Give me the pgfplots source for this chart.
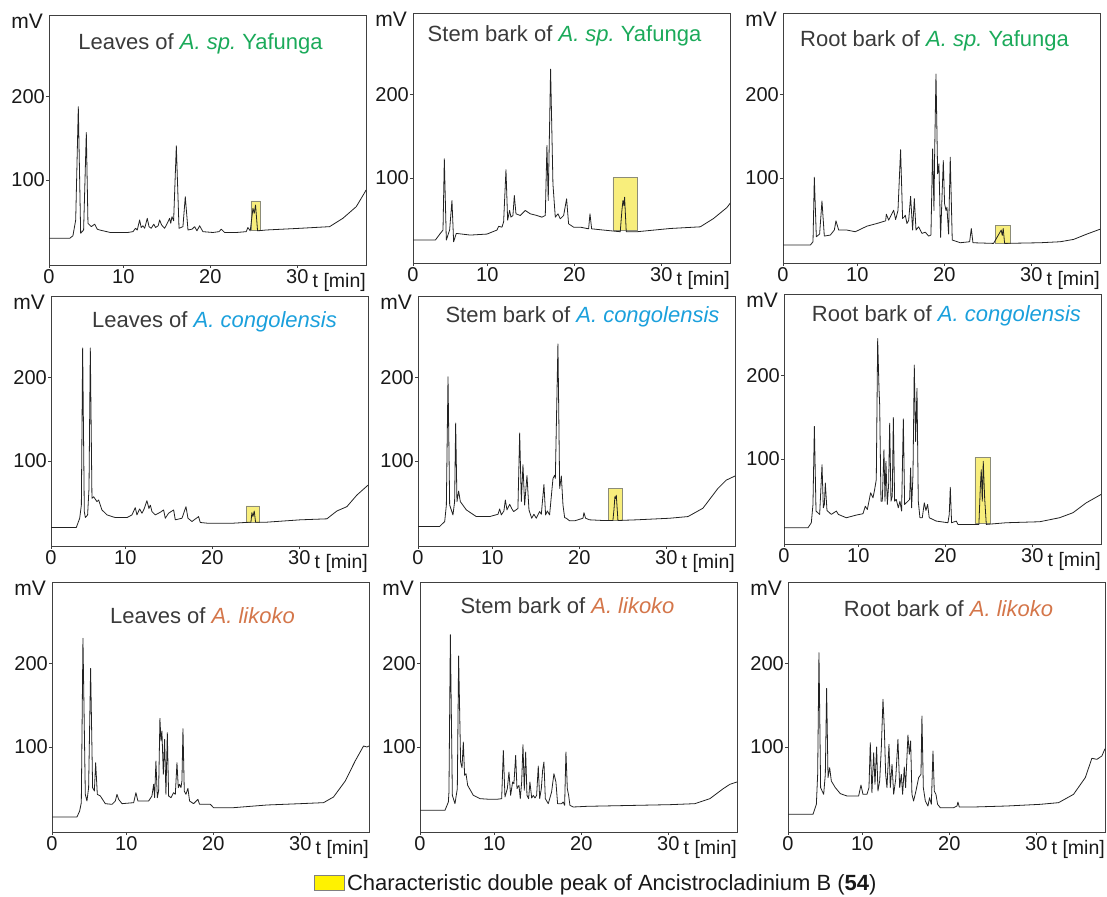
\documentclass[border=0pt]{standalone}
\usepackage{fontspec}
\setmainfont{Liberation Sans}
\usepackage{pgfplots}
\pgfplotsset{compat=1.18}

\definecolor{ink}{HTML}{3A3A3A}
\definecolor{spg}{HTML}{1BAA5A}
\definecolor{cgb}{HTML}{1BA0DC}
\definecolor{lko}{HTML}{D4764A}
\definecolor{hl}{HTML}{F8EE7C}
\definecolor{hldraw}{HTML}{8C8C78}
\definecolor{trace}{HTML}{222222}

\pgfplotsset{
  chrom/.style={
    scale only axis, width=317pt, height=250pt,
    xmin=1.45, xmax=37.9, ymin=-2, ymax=298,
    xtick={1.45,10,20,30}, xticklabels={0,10,20,30},
    ytick={100,200},
    tick pos=left, tick align=outside, major tick length=3pt,
    axis line style={line width=0.9pt, black!75},
    every tick/.style={line width=0.9pt, black!75},
    tick label style={font=\fontsize{20}{20}\selectfont, text=black!90},
    xticklabel style={inner sep=1pt},
    yticklabel style={inner sep=1pt},
    /pgf/number format/assume math mode=true,
    xlabel={t [min]}, ylabel={mV},
    every axis x label/.style={at={(rel axis cs:1,0)}, anchor=base east,
      yshift=-23pt, xshift=0pt, inner sep=0pt,
      font=\fontsize{19.5}{19.5}\selectfont, text=black!90},
    every axis y label/.style={at={(rel axis cs:0,1)}, anchor=north east,
      xshift=-6pt, yshift=1pt, inner sep=0pt,
      font=\fontsize{21}{21}\selectfont, text=black!90},
    every axis title/.style={at={(rel axis cs:0.5,1)}, anchor=center,
      inner sep=0pt, font=\fontsize{22}{22}\selectfont, text=ink},
  },
  trace/.style={draw=trace, line width=0.8pt, mark=none, forget plot, line join=round},
  peakbox/.style={fill=hl, draw=hldraw, line width=0.6pt, mark=none, forget plot},
}

\begin{document}
\begin{tikzpicture}
\useasboundingbox (0,0) rectangle (1107pt,896pt);

% ---------------- row 1: A. sp. Yafunga ----------------
\begin{axis}[chrom, at={(49pt,631pt)}, anchor=south west,
  title={Leaves of \textcolor{spg}{\itshape A.\ sp.}\ \textcolor{spg}{Yafunga}},
  title style={xshift=-7pt, yshift=-29pt}]
\addplot[peakbox] coordinates {(24.67,40)(25.70,40)(25.70,75)(24.67,75)(24.67,40)};
\addplot[trace] coordinates {
(1.45,30)(3.83,30)(4.2,33)(4.52,52)(4.82,188)(5.09,36)(5.43,40)(5.74,157)(5.93,48)
(6.32,44)(6.7,47)(7.0,41)(7.27,40)(8.5,37)(9.19,37)(10.5,37)(11.1,38)(11.4,42)(11.6,40)
(11.87,52)(12.05,43)(12.25,45)(12.45,42)(12.75,54)(12.95,44)(13.2,42)(13.5,47)(13.7,43)
(14.0,45)(14.17,52)(14.4,46)(14.74,42)(15.0,47)(15.32,54)(15.45,48)(15.59,56)(15.78,51)
(16.09,141)(16.4,42)(16.85,44)(17.12,80)(17.43,40)(17.9,41)(18.2,44)(18.46,39)(18.77,45)
(19.15,38)(20.3,37)(21.0,38)(21.26,41)(21.64,37)(23.0,37)(24.13,38)(24.32,43)(24.59,39)
(24.9,66)(25.05,60)(25.2,70)(25.43,39)(26.43,40)(30.26,42)(33.71,44)(35.24,54)(36.78,68)
(37.81,86)(37.9,88)};
\end{axis}

\begin{axis}[chrom, at={(413pt,633pt)}, anchor=south west,
  title={Stem bark of \textcolor{spg}{\itshape A.\ sp.}\ \textcolor{spg}{Yafunga}},
  title style={xshift=-7pt, yshift=-23pt}]
\addplot[peakbox] coordinates {(24.44,37.5)(27.2,37.5)(27.2,100.4)(24.44,100.4)(24.44,37.5)};
\addplot[trace] coordinates {
(1.45,25.5)(4.02,25.5)(4.59,33.5)(4.9,37.5)(5.05,123)(5.28,25.5)(5.66,37.5)(5.93,73)
(6.12,23.5)(6.43,33.5)(8.04,31.5)(9.96,32.7)(11.1,37.5)(11.3,42)(11.68,41)(11.87,47.4)
(12.14,110)(12.33,49.4)(12.56,61)(12.71,53)(12.94,55)(13.1,79)(13.29,57)(13.79,55)
(14.36,61)(14.94,57)(15.7,55)(16.28,53)(16.66,55)(16.85,139)(17.0,73)(17.27,230.7)
(17.54,93)(17.81,53)(18.12,57)(18.38,51)(18.77,55)(19.11,75)(19.34,45)(19.92,41)
(20.68,41)(21.64,39)(21.8,57)(21.99,39)(23.37,37.5)(25.28,35.5)(25.47,61)(25.59,73)
(25.7,67)(25.78,77)(25.97,35.5)(27.2,35.5)(31.03,39.4)(34.48,41.4)(36.01,51.4)
(37.54,64.5)(38.12,72.5)};
\end{axis}

\begin{axis}[chrom, at={(783pt,633pt)}, anchor=south west,
  title={Root bark of \textcolor{spg}{\itshape A.\ sp.}\ \textcolor{spg}{Yafunga}},
  title style={xshift=-7pt, yshift=-28pt}]
\addplot[peakbox] coordinates {(25.86,21.5)(27.58,21.5)(27.58,43.4)(25.86,43.4)(25.86,21.5)};
\addplot[trace] coordinates {
(1.45,19.5)(4.59,19.5)(4.9,23.5)(5.05,101)(5.28,29.5)(5.66,32.7)(5.93,72.5)(6.2,30.3)
(6.89,31.5)(7.35,37.5)(7.54,48.6)(7.85,37.5)(8.8,37.5)(9.76,35.5)(11.1,42.2)(12.25,45.4)
(13.25,48.6)(13.33,56.6)(13.6,49.4)(14.17,61.4)(14.4,50.2)(14.67,61)(14.97,134)(15.2,51.4)
(15.4,53.4)(15.51,55.4)(15.7,45.4)(15.9,49)(16.12,78)(16.24,57.4)(16.35,37.5)(16.55,75.3)
(16.74,37.5)(17.04,41.4)(17.43,33.5)(17.81,35)(18.19,30.3)(18.46,31.5)(18.65,135)
(18.81,61)(18.88,125)(19.04,224.7)(19.23,105)(19.38,117)(19.57,28.7)(19.88,121)
(20.03,69)(20.19,61)(20.3,65)(20.49,32.7)(20.68,125)(20.91,25.5)(21.83,22.3)(22.91,23.5)
(23.1,39.4)(23.29,22.3)(25.66,21.5)(26.54,37.5)(26.66,31)(26.77,39.4)(26.93,21.5)
(31.03,22.3)(33.33,23.5)(34.86,26.3)(36.39,32.7)(37.9,38.5)};
\end{axis}

% ---------------- row 2: A. congolensis ----------------
\begin{axis}[chrom, at={(51pt,350pt)}, anchor=south west,
  title={Leaves of \textcolor{cgb}{\itshape A.\ congolensis}},
  title style={xshift=5pt, yshift=-26pt}]
\addplot[peakbox] coordinates {(23.9,26.2)(25.43,26.2)(25.43,46)(23.9,46)(23.9,26.2)};
\addplot[trace] coordinates {
(1.45,20.2)(4.36,20.2)(4.75,31.3)(4.94,47.2)(5.09,235.7)(5.28,39.3)(5.4,32.1)(5.66,35.3)
(5.82,67)(5.97,235.7)(6.16,55.2)(6.35,57.1)(6.74,51.2)(6.93,53.2)(7.31,41.3)(7.89,35.3)
(8.84,32.1)(10.19,32.1)(10.76,35.3)(11.14,44)(11.33,35.3)(11.64,42.5)(11.91,37.3)
(12.18,43)(12.48,52.4)(12.71,43)(12.87,47)(13.06,39.3)(13.44,35.3)(14.02,38.5)(14.4,41.3)
(14.59,31.3)(14.97,37.3)(15.55,41.3)(15.74,29.4)(16.51,31.3)(16.97,45.2)(17.2,31.3)
(17.66,27.4)(18.42,33.3)(18.61,26.2)(19.38,25.4)(22.45,25.4)(24.44,26.6)(24.55,38)
(24.67,33.3)(24.82,40)(24.97,26.6)(26.28,26.6)(30.11,29.4)(33.17,30.6)(34.32,40)
(35.47,45.2)(36.62,59.1)(37.9,71)};
\end{axis}

\begin{axis}[chrom, at={(418pt,350pt)}, anchor=south west,
  title={Stem bark of \textcolor{cgb}{\itshape A.\ congolensis}},
  title style={xshift=6pt, yshift=-21pt}]
\addplot[peakbox] coordinates {(23.33,28.6)(24.94,28.6)(24.94,67)(23.33,67)(23.33,28.6)};
\addplot[trace] coordinates {
(1.45,21.4)(3.94,21.4)(4.52,27.4)(4.71,47.2)(4.9,201)(5.09,47.2)(5.47,35.3)(5.66,51.2)
(5.78,145.6)(5.93,51.2)(6.12,63.9)(6.32,51.2)(7.01,41.3)(8.15,33.3)(9.69,33.3)(10.65,36.1)
(10.84,42.5)(11.03,35.3)(11.33,40)(11.49,53.2)(11.68,41.3)(11.99,48)(12.22,43)(12.45,39.3)
(12.94,43)(13.14,133.7)(13.33,51.2)(13.52,95.6)(13.71,47.2)(13.98,82.5)(14.21,41.3)
(14.52,31.3)(14.78,36.1)(15.05,31.3)(15.43,39.3)(15.63,36.1)(15.93,71.8)(16.12,35.3)
(16.32,40)(16.58,35.3)(16.97,79)(17.16,83)(17.24,79)(17.54,240.5)(17.74,67)(17.93,82)
(18.12,47.2)(18.31,32.1)(18.5,31.3)(18.88,28.2)(19.46,28.2)(20.42,31.3)(20.53,38)
(20.72,31.3)(21.18,29.4)(22.71,28.6)(23.86,28.6)(23.98,41.3)(24.09,57.1)(24.17,55)
(24.25,59)(24.44,28.6)(26.55,29.4)(30.38,31.3)(32.49,33.3)(34.21,43.3)(35.93,67)
(36.89,77)(37.9,82)};
\end{axis}

\begin{axis}[chrom, at={(784pt,352pt)}, anchor=south west,
  title={Root bark of \textcolor{cgb}{\itshape A.\ congolensis}},
  title style={xshift=4pt, yshift=-22pt}]
\addplot[peakbox] coordinates {(23.4,22.3)(25.17,22.3)(25.17,102)(23.4,102)(23.4,22.3)};
\addplot[trace] coordinates {
(1.45,17.5)(4.21,17.5)(4.59,23.5)(4.78,45.4)(4.94,139)(5.13,37.5)(5.55,33.5)(5.82,93.2)
(5.97,41.4)(6.09,45.4)(6.2,71.3)(6.39,38.2)(6.89,33.5)(7.47,37.5)(7.7,33.5)(8.61,29.5)
(9.76,32.7)(10.53,34.3)(10.8,43.4)(11.03,39.4)(11.41,59.4)(11.68,53.4)(11.87,63.3)
(12.06,75.3)(12.22,244.6)(12.37,184.9)(12.45,165)(12.6,49.4)(12.75,49.4)(12.94,111)
(13.06,49.4)(13.17,97.2)(13.33,45.4)(13.48,69.3)(13.6,143)(13.75,49.4)(13.9,55.4)
(14.02,149.8)(14.17,49.4)(14.36,51.4)(14.59,41.4)(14.78,49.4)(14.97,37.5)(15.17,148.2)
(15.32,45.4)(15.7,49.4)(15.89,51.4)(16.01,89.2)(16.12,41.4)(16.28,81.3)(16.43,212.7)
(16.58,121)(16.74,184.9)(16.89,49.4)(17.08,29.5)(17.35,29.5)(17.58,47.4)(17.77,38.2)
(17.96,45.4)(18.15,29.5)(18.96,25.5)(20.3,23.5)(20.45,33.5)(20.57,66.1)(20.72,23.5)
(21.26,25.5)(21.45,21.5)(23.17,21.5)(23.86,21.5)(24.02,65.3)(24.13,87.2)(24.25,49.4)
(24.36,97.2)(24.52,53.4)(24.71,21.5)(27.0,23.5)(30.84,24.7)(33.13,29.5)(34.67,35.5)
(36.2,47.4)(37.9,57.4)};
\end{axis}

% ---------------- row 3: A. likoko ----------------
\begin{axis}[chrom, at={(52pt,64pt)}, anchor=south west,
  title={Leaves of \textcolor{lko}{\itshape A.\ likoko}},
  title style={xshift=-8pt, yshift=-34pt}]
\addplot[trace] coordinates {
(1.45,16)(4.32,16)(4.63,23.2)(4.82,33.2)(5.01,230.4)(5.28,43.2)(5.47,35.2)(5.66,51.2)
(5.89,194.4)(6.12,51.2)(6.32,47.2)(6.47,81.2)(6.66,43.2)(7.01,41.2)(7.58,32)(8.35,31.2)
(8.73,35.2)(8.92,43.2)(9.11,37.2)(9.5,32)(10.84,33.2)(11.1,45.2)(11.33,35.2)(12.56,35.2)
(12.94,41.2)(13.14,55.2)(13.25,39.2)(13.4,83.2)(13.56,39.2)(13.71,47.2)(13.86,134.4)
(13.98,107.2)(14.09,119.2)(14.25,67.2)(14.4,109.2)(14.55,43.2)(14.71,117.2)(14.86,41.2)
(15.13,39.2)(15.43,45.2)(15.63,43.2)(15.82,81.2)(15.97,51.2)(16.12,55.2)(16.28,51.2)
(16.39,59.2)(16.51,122)(16.66,47.2)(16.85,43.2)(17.08,50.4)(17.27,35.2)(17.73,32)
(18.23,37.2)(18.42,31.2)(19.65,31.2)(20.03,27.2)(22.33,27.2)(26.16,30.4)(29.99,32)
(32.67,33.2)(33.82,40)(35.17,59.2)(36.31,83.2)(37.27,101.2)(37.66,100)(37.9,101.2)};
\end{axis}

\begin{axis}[chrom, at={(420pt,64pt)}, anchor=south west,
  title={Stem bark of \textcolor{lko}{\itshape A.\ likoko}},
  title style={xshift=-11pt, yshift=-24pt},
  legend style={at={(0.5,0)}, anchor=north, xshift=18pt, yshift=-40pt,
    draw=none, fill=none, inner sep=0pt,
    font=\fontsize{22}{22}\selectfont, text=black!90},
  legend cell align=left]
\addplot[trace] coordinates {
(1.45,24)(4.32,24)(4.71,34)(4.78,46)(4.94,234.8)(5.17,42)(5.47,32)(5.74,50)(5.89,209.2)
(6.12,82)(6.28,75)(6.43,106)(6.58,66)(6.74,68)(6.93,54)(7.58,42)(8.35,38)(9.5,37.2)
(10.26,37.2)(10.84,38)(11.03,96)(11.22,40)(11.49,50)(11.68,70)(11.87,42)(12.1,58)
(12.25,56)(12.45,90)(12.6,50)(12.83,54)(12.98,38)(13.14,58)(13.29,102.8)(13.44,48)
(13.6,94)(13.75,42)(13.94,38)(14.09,58)(14.29,38.8)(14.48,42)(14.67,38.8)(14.86,42)
(15.05,77.2)(15.21,38)(15.4,50)(15.55,72)(15.7,82)(15.86,38)(16.2,32)(16.58,46)(16.85,68)
(17.08,58)(17.27,32)(17.73,32)(17.92,34)(18.08,30)(18.23,94)(18.39,50)(18.54,42)(18.69,30)
(19.07,28)(20.61,28.8)(22.52,29.2)(26.35,30)(30.18,30.8)(33.06,32)(34.78,38)(36.32,50)
(37.08,55.2)(37.9,58)};
\addlegendimage{legend image code/.code={
  \draw[fill=yellow, draw=gray, line width=0.6pt] (-3pt,-7.5pt) rectangle (27pt,7.5pt);}}
\addlegendentry{Characteristic double peak of Ancistrocladinium B (\textbf{54})}
\end{axis}

\begin{axis}[chrom, at={(788pt,64pt)}, anchor=south west,
  title={Root bark of \textcolor{lko}{\itshape A.\ likoko}},
  title style={xshift=2pt, yshift=-27pt}]
\addplot[trace] coordinates {
(1.45,19.2)(4.32,19.2)(4.71,31.2)(4.86,67.2)(5.01,213.2)(5.2,51.2)(5.55,43.2)(5.74,67.2)
(5.89,170.4)(6.05,63.2)(6.24,75.2)(6.43,59.2)(6.89,51.2)(7.47,44)(8.23,41.2)(9.57,41.2)
(9.84,54.4)(10.07,43.2)(10.53,43.2)(10.76,51.2)(10.91,105.2)(11.1,45.2)(11.3,93.2)
(11.45,55.2)(11.64,100)(11.79,47.2)(11.99,59.2)(12.18,99.2)(12.37,157.2)(12.52,123.2)
(12.68,67.2)(12.83,51.2)(13.06,103.2)(13.21,51.2)(13.41,79.2)(13.6,43.2)(13.83,61.2)
(14.09,109.2)(14.29,51.2)(14.48,67.2)(14.63,43.2)(14.82,76)(14.97,51.2)(15.24,114.4)
(15.4,91.2)(15.55,107.2)(15.7,43.2)(15.89,35.2)(16.16,47.2)(16.47,63.2)(16.74,67.2)
(16.85,137.2)(17.01,51.2)(17.24,35.2)(17.54,29.2)(17.73,39.2)(17.93,31.2)(18.12,95.2)
(18.27,47.2)(18.46,43.2)(18.65,31.2)(18.96,27.2)(20.49,27.2)(20.88,29.2)(20.99,34)
(21.14,28)(22.79,28)(26.62,29.2)(30.45,31.2)(32.56,33.2)(34.28,43.2)(35.63,63.2)
(36.39,86.4)(36.97,85.2)(37.54,89.2)(37.9,98)};
\end{axis}
\end{tikzpicture}
\end{document}
